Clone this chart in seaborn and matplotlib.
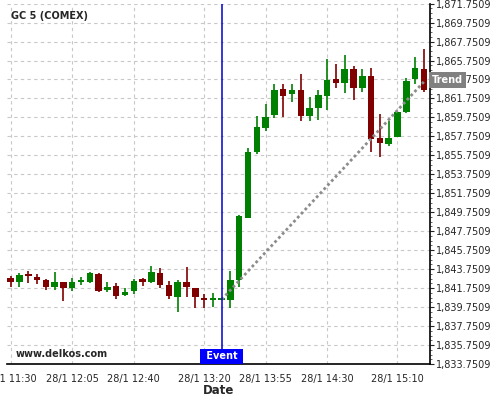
"""
GC 5 (COMEX) 5-minute candles around an event, with a trend line.
"""

import numpy as np
import pandas as pd
import matplotlib
matplotlib.use("Agg")
import matplotlib.pyplot as plt
from matplotlib.ticker import FixedLocator, FuncFormatter
import seaborn as sns


# ── data ────────────────────────────────────────────────────────────
opens = [1842.86, 1842.44, 1843.15, 1842.94, 1842.62, 1841.92, 1842.41, 1841.81,
         1842.43, 1842.44, 1843.25, 1841.57, 1841.99, 1841.07, 1841.49, 1842.70,
         1842.44, 1843.33, 1842.10, 1840.86, 1842.38, 1841.75, 1840.72, 1840.54,
         1840.54, 1840.51, 1842.62, 1849.17, 1856.06, 1858.66, 1859.99, 1862.74,
         1862.18, 1862.63, 1859.92, 1860.77, 1862.03, 1863.79, 1863.34, 1864.85,
         1862.81, 1864.11, 1857.54, 1856.91, 1857.71, 1860.35, 1863.76, 1864.81]
highs = [1843.08, 1843.33, 1843.57, 1843.25, 1842.73, 1843.43, 1842.41, 1842.80,
         1842.90, 1843.47, 1843.33, 1842.41, 1842.27, 1841.75, 1842.70, 1842.86,
         1844.10, 1843.85, 1842.55, 1842.62, 1843.96, 1841.75, 1841.15, 1841.22,
         1840.58, 1843.60, 1849.44, 1856.48, 1859.92, 1861.13, 1863.23, 1863.23,
         1863.23, 1864.32, 1861.93, 1862.63, 1865.87, 1865.34, 1866.32, 1865.19,
         1864.81, 1864.92, 1860.07, 1859.36, 1860.30, 1863.87, 1866.08, 1866.92]
lows = [1841.92, 1841.85, 1842.34, 1842.20, 1841.57, 1841.57, 1840.44, 1841.50,
        1842.10, 1842.34, 1841.39, 1841.36, 1840.59, 1840.97, 1841.11, 1842.02,
        1842.34, 1841.75, 1840.59, 1839.28, 1840.86, 1839.64, 1839.64, 1839.81,
        1840.52, 1839.64, 1841.92, 1849.17, 1855.90, 1858.31, 1859.65, 1859.82,
        1861.34, 1859.40, 1859.36, 1859.47, 1860.52, 1862.81, 1862.35, 1861.58,
        1862.39, 1856.13, 1855.54, 1856.73, 1857.71, 1860.24, 1863.23, 1862.39]
closes = [1842.44, 1843.15, 1843.05, 1842.65, 1841.92, 1842.41, 1841.81, 1842.41,
          1842.47, 1843.33, 1841.46, 1841.85, 1840.97, 1841.36, 1842.52, 1842.41,
          1843.43, 1842.13, 1840.97, 1842.38, 1841.92, 1840.86, 1840.54, 1840.56,
          1840.56, 1842.62, 1849.33, 1856.06, 1858.76, 1859.82, 1862.63, 1862.03,
          1862.63, 1859.92, 1860.70, 1862.10, 1863.69, 1863.34, 1864.85, 1862.81,
          1864.11, 1857.44, 1857.02, 1857.54, 1860.28, 1863.58, 1864.92, 1862.63]

tick_index = [0, 7, 14, 22, 29, 36, 44]
tick_labels = ["28/1 11:30", "28/1 12:05", "28/1 12:40", "28/1 13:20",
               "28/1 13:55", "28/1 14:30", "28/1 15:10"]

event_index = 24
trend_index = [24, 47]
trend_price = [1840.55, 1863.50]
y_ticks = [1833.7509 + 2 * k for k in range(20)]

UP = "#008000"
DOWN = "#800000"

# ── style ────────────────────────────────────────────────────────────
sns.set_style("white")
plt.rcParams["font.family"] = ["DejaVu Sans"]
plt.rcParams["font.size"] = 7

df = pd.DataFrame({"open": opens, "high": highs, "low": lows, "close": closes})
df["x"] = np.arange(len(df))
df["up"] = df["close"] >= df["open"]
df["color"] = np.where(df["up"], UP, DOWN)
df["bottom"] = df[["open", "close"]].min(axis=1)
df["height"] = (df["close"] - df["open"]).abs().clip(lower=0.15)

fig = plt.figure(figsize=(5, 4), dpi=100)
ax = fig.add_axes([0.014, 0.09, 0.846, 0.901])

# grid
for t in tick_index:
    ax.axvline(t, color="#c8c8c8", lw=0.8, ls=(0, (3, 3)), zorder=0)
for y in y_ticks:
    ax.axhline(y, color="#c8c8c8", lw=0.8, ls=(0, (3, 3)), zorder=0)

# candles
ax.vlines(df["x"], df["low"], df["high"], colors=df["color"], lw=1.2, zorder=2)
ax.bar(df["x"], df["height"], bottom=df["bottom"], width=0.74,
       color=df["color"], linewidth=0, zorder=3)

# trend line
trend = pd.DataFrame({"x": trend_index, "price": trend_price})
sns.lineplot(data=trend, x="x", y="price", ax=ax, color="#8c8c8c", lw=2,
             linestyle=(0, (1, 1)), zorder=4)

# event marker
ax.axvline(event_index, color="#0000cc", lw=1.1, zorder=5)
ax.text(event_index, 0.022, " Event ", transform=ax.get_xaxis_transform(),
        ha="center", va="center", color="white", fontsize=7, fontweight="bold",
        bbox=dict(boxstyle="square,pad=0.25", fc="#0000ff", ec="none"), zorder=6)

ax.text(1.005, trend_price[-1] + 0.2, "Trend", transform=ax.get_yaxis_transform(),
        ha="left", va="center", color="white", fontsize=7, fontweight="bold",
        bbox=dict(boxstyle="square,pad=0.3", fc="#808080", ec="none"),
        zorder=6, clip_on=False)

# axes
ax.set_xlim(-0.42, 47.7)
ax.set_ylim(1833.7509, 1871.7509)
ax.set_xticks(tick_index)
ax.set_xticklabels(tick_labels)
minor_x = []
for a, b in zip(tick_index[:-1], tick_index[1:]):
    minor_x += list(np.linspace(a, b, 5)[1:-1])
minor_x += list(np.linspace(44, 51, 5)[1:2])
ax.xaxis.set_minor_locator(FixedLocator(minor_x))

ax.yaxis.tick_right()
ax.set_yticks(y_ticks)
ax.yaxis.set_major_formatter(FuncFormatter(lambda v, p: f"{v:,.4f}"))
ax.yaxis.set_minor_locator(FixedLocator(
    [1833.7509 + 0.5 * k for k in range(77)]))

ax.tick_params(axis="x", which="major", length=4, width=0.8, pad=3, labelsize=7)
ax.tick_params(axis="x", which="minor", length=2.5, width=0.6)
ax.tick_params(axis="y", which="major", length=3, width=0.8, pad=1, labelsize=7)
ax.tick_params(axis="y", which="minor", length=1.5, width=0.5)

for side in ["left", "top"]:
    ax.spines[side].set_visible(False)
for side in ["right", "bottom"]:
    ax.spines[side].set_color("black")
    ax.spines[side].set_linewidth(1.2)

ax.set_xlabel("Date", fontsize=8.5, fontweight="bold", labelpad=0)
ax.set_ylabel("")

fig.text(11 / 500, 1 - 15.7 / 400, "GC 5 (COMEX)", fontsize=7,
         fontweight="bold", va="center", ha="left")
ax.text(0.02, 0.028, "www.delkos.com", transform=ax.transAxes, fontsize=7,
        fontweight="bold", va="center", ha="left")

fig.savefig("out.png", dpi=100)
plt.close(fig)
